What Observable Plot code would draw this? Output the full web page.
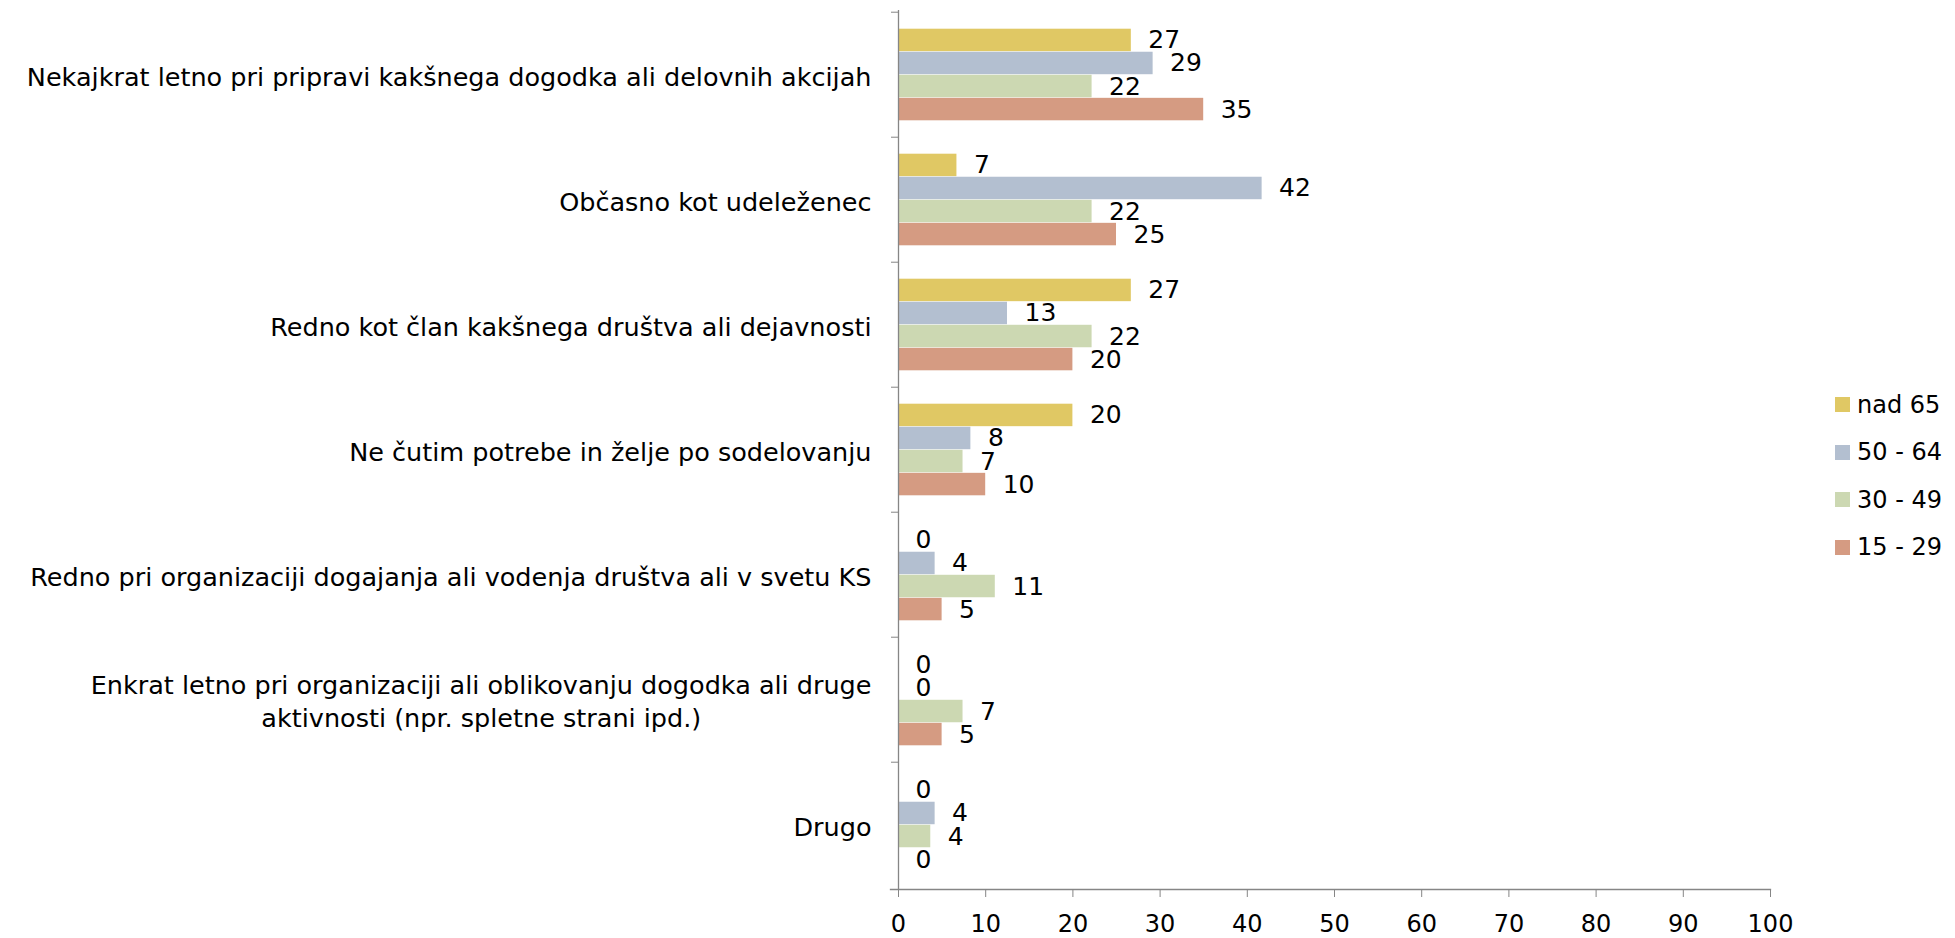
<!DOCTYPE html>
<html>
<head>
<meta charset="utf-8">
<script src="https://cdn.jsdelivr.net/npm/d3@7"></script>
<script src="https://cdn.jsdelivr.net/npm/@observablehq/plot@0.6"></script>
<style>
  html, body { margin: 0; padding: 0; background: #fff; }
  body { width: 1955px; height: 938px; position: relative; overflow: hidden; font-family: "DejaVu Sans", sans-serif; }
  #chart { position: absolute; left: 0; top: 0; }
  #legend { position: absolute; left: 1835px; top: 381px; font-family: "DejaVu Sans", sans-serif; font-size: 24px; color: #000; }
  #legend > div { margin: 0 !important; }
  #legend > div > div { height: 47.5px; display: flex; align-items: center; margin: 0 !important; padding: 0 !important; }
  #legend svg { margin-right: 7px !important; }
</style>
</head>
<body>
<div id="chart"></div>
<div id="legend"></div>
<script>
const categories = [
  "Nekajkrat letno pri pripravi kakšnega dogodka ali delovnih akcijah",
  "Občasno kot udeleženec",
  "Redno kot član kakšnega društva ali dejavnosti",
  "Ne čutim potrebe in želje po sodelovanju",
  "Redno pri organizaciji dogajanja ali vodenja društva ali v svetu KS",
  "Enkrat letno pri organizaciji ali oblikovanju dogodka ali druge\naktivnosti (npr. spletne strani ipd.)",
  "Drugo"
];
const series = ["nad 65", "50 - 64", "30 - 49", "15 - 29"];
const valuesNad65 = [26.7, 6.7, 26.7, 20.0, 0, 0, 0];
const values5064 = [29.2, 41.7, 12.5, 8.3, 4.2, 0, 4.2];
const values3049 = [22.2, 22.2, 22.2, 7.4, 11.1, 7.4, 3.7];
const values1529 = [35.0, 25.0, 20.0, 10.0, 5.0, 5.0, 0];
const seriesColors = ["#e0c864", "#b3bfd0", "#ccd8b2", "#d59b82"];
const xTicks = [0, 10, 20, 30, 40, 50, 60, 70, 80, 90, 100];

const seriesValues = [valuesNad65, values5064, values3049, values1529];
const data = categories.flatMap((c, i) =>
  series.map((s, j) => ({category: c, series: s, value: seriesValues[j][i]})));

const FONT = '"DejaVu Sans", sans-serif';
const FS_CAT = 25.5, FS_VAL = 25, FS_TICK = 24;
const W = 1800, H = 938;
const mTop = 10, mBottom = 49, mLeft = 898, mRight = 30;
const step = (H - mTop - mBottom) / categories.length;
const groupGap = step * 0.133;
const barH = (step - 2 * groupGap) / series.length;
const gray = "#868686";

// center second line of multi-line labels using non-breaking spaces
const ctx = document.createElement("canvas").getContext("2d");
ctx.font = `${FS_CAT}px ${FONT}`;
const nbspW = ctx.measureText("\u00a0").width || FS_CAT * 0.3;
function fmtLabel(t) {
  const lines = t.split("\n");
  if (lines.length < 2) return t;
  const w0 = ctx.measureText(lines[0]).width;
  return lines.map((l, k) => {
    if (k === 0) return l;
    const pad = Math.max(0, Math.round((w0 - ctx.measureText(l).width) / 2 / nbspW));
    return l + "\u00a0".repeat(pad);
  }).join("\n");
}

const marks = [];
series.forEach((s, j) => {
  const sub = data.filter(d => d.series === s);
  marks.push(Plot.barX(sub, {
    y: "category", x1: 0, x2: "value", fill: "series",
    insetTop: groupGap + j * barH,
    insetBottom: step - groupGap - (j + 1) * barH
  }));
  marks.push(Plot.text(sub, {
    y: "category", x: "value", text: d => String(Math.round(d.value)),
    textAnchor: "start", dx: 17, dy: -step / 2 + groupGap + (j + 0.5) * barH,
    fontSize: FS_VAL, fill: "#000"
  }));
});

marks.push(Plot.ruleX([0], {stroke: gray, strokeWidth: 1.3}));
marks.push(Plot.frame({anchor: "bottom", stroke: gray, strokeWidth: 1.3, insetLeft: -8}));
marks.push(Plot.axisY({tickSize: 7, tickFormat: () => "", dy: -step / 2, stroke: gray, label: null}));
marks.push(Plot.axisY({tickSize: 0, tickPadding: 27, tickFormat: fmtLabel, fontSize: FS_CAT, fill: "#000", textAnchor: "end", lineHeight: 1.3, label: null}));
marks.push(Plot.axisX({ticks: xTicks, tickSize: 8, tickPadding: 17, fontSize: FS_TICK, stroke: gray, fill: "#000", tickFormat: d => String(d), label: null}));

const chart = Plot.plot({
  width: W, height: H,
  marginTop: mTop, marginBottom: mBottom, marginLeft: mLeft, marginRight: mRight,
  style: {fontFamily: FONT, fontSize: FS_TICK + "px", color: "#000", background: "transparent", overflow: "visible"},
  x: {domain: [0, 100], axis: null, label: null},
  y: {domain: categories, type: "band", padding: 0, axis: null, label: null},
  color: {domain: series, range: seriesColors},
  marks
});
document.getElementById("chart").appendChild(chart);

const legend = Plot.legend({
  color: {domain: series, range: seriesColors},
  legend: "swatches", columns: 1, swatchSize: 15,
  style: {fontFamily: FONT, fontSize: FS_TICK + "px", color: "#000"}
});
document.getElementById("legend").appendChild(legend);
</script>
</body>
</html>
